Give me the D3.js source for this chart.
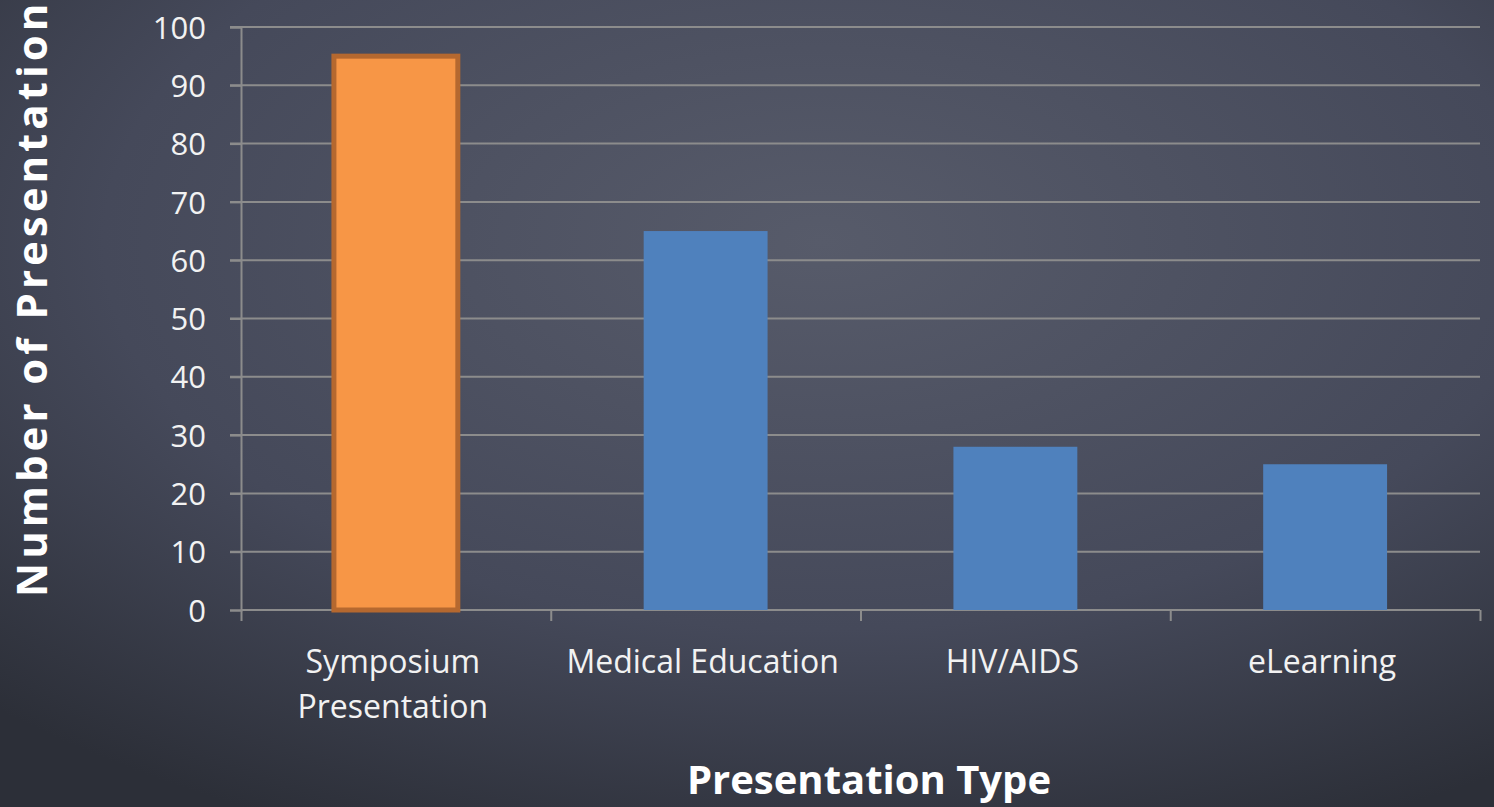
<!DOCTYPE html>
<head>
  <meta charset="utf-8">
</head>
<style>
body { margin: 0; overflow: hidden; }
.grid line { stroke: #8c8c8c; stroke-width: 2; }
.axis text { fill: #f2f2f2; font-family: "Open Sans", sans-serif; }
.axis path, .axis line { stroke: #8c8c8c; stroke-width: 2; }
</style>
<body>
<script src="https://d3js.org/d3.v7.min.js"></script>
<script>
var categories = [["Symposium", "Presentation"], ["Medical Education"], ["HIV/AIDS"], ["eLearning"]];
var values = [95, 65, 28, 25];
var yTicks = [0, 10, 20, 30, 40, 50, 60, 70, 80, 90, 100];

var width = 1494, height = 807;
var margin = {top: 27, right: 14, bottom: 197, left: 241};

var svg = d3.select("body").append("svg")
  .attr("width", width)
  .attr("height", height);

// chalkboard background
var defs = svg.append("defs");
var grad = defs.append("radialGradient")
  .attr("id", "board")
  .attr("cx", "55%").attr("cy", "30%").attr("r", "80%");
grad.append("stop").attr("offset", "0%").attr("stop-color", "#575b6a");
grad.append("stop").attr("offset", "60%").attr("stop-color", "#45495a");
grad.append("stop").attr("offset", "100%").attr("stop-color", "#2c2f38");
svg.append("rect").attr("width", width).attr("height", height).attr("fill", "url(#board)");

var x = d3.scaleBand()
  .domain(d3.range(categories.length))
  .range([margin.left, width - margin.right])
  .paddingInner(0.6)
  .paddingOuter(0.3);

var y = d3.scaleLinear()
  .domain([0, 100])
  .range([height - margin.bottom, margin.top]);

// gridlines
svg.append("g").attr("class", "grid")
  .selectAll("line")
  .data(yTicks.slice(1))
  .enter().append("line")
  .attr("x1", margin.left - 11)
  .attr("x2", width - margin.right)
  .attr("y1", function(d) { return y(d); })
  .attr("y2", function(d) { return y(d); });

// y axis
var yAxis = svg.append("g").attr("class", "axis")
  .attr("transform", "translate(" + margin.left + ",0)")
  .call(d3.axisLeft(y).tickValues(yTicks).tickSize(11).tickPadding(24));
yAxis.selectAll("text").attr("font-size", 31).attr("dy", "0.36em");

// x axis with boundary ticks
var xb = d3.scaleLinear().domain([0, categories.length]).range([margin.left, width - margin.right]);
var xAxis = svg.append("g").attr("class", "axis")
  .attr("transform", "translate(0," + y(0) + ")")
  .call(d3.axisBottom(xb).ticks(categories.length).tickSize(11).tickFormat(""));
xAxis.select(".domain").attr("d", "M" + margin.left + ",0H" + (width - margin.right));

// bars
svg.append("g")
  .selectAll("rect")
  .data(values)
  .enter().append("rect")
  .attr("x", function(d, i) { return x(i); })
  .attr("y", function(d) { return y(d); })
  .attr("width", x.bandwidth())
  .attr("height", function(d) { return y(0) - y(d); })
  .attr("fill", function(d, i) { return i == 0 ? "#f79646" : "#4f81bd"; })
  .attr("stroke", function(d, i) { return i == 0 ? "#b5682f" : "none"; })
  .attr("stroke-width", 5);

// category labels
var catLabel = svg.append("g")
  .selectAll("text")
  .data(categories)
  .enter().append("text")
  .attr("x", function(d, i) { return x(i) + x.bandwidth() / 2 - 3; })
  .attr("y", 673)
  .attr("text-anchor", "middle")
  .attr("font-family", "Open Sans, sans-serif")
  .attr("font-size", 32)
  .attr("fill", "#f2f2f2");
catLabel.selectAll("tspan")
  .data(function(d) { return d; })
  .enter().append("tspan")
  .attr("x", function() { return d3.select(this.parentNode).attr("x"); })
  .attr("dy", function(d, i) { return i == 0 ? 0 : 45; })
  .text(function(d) { return d; });

// axis titles
svg.append("text")
  .attr("x", 869)
  .attr("y", 794)
  .attr("text-anchor", "middle")
  .attr("font-family", "Open Sans, sans-serif")
  .attr("font-weight", "bold")
  .attr("font-size", 40)
  .attr("fill", "#ffffff")
  .text("Presentation Type");

svg.append("text")
  .attr("transform", "translate(47,597) rotate(-90)")
  .attr("text-anchor", "start")
  .attr("font-family", "Open Sans, sans-serif")
  .attr("font-weight", "bold")
  .attr("font-size", 42)
  .attr("letter-spacing", 4)
  .attr("fill", "#ffffff")
  .text("Number of Presentation");
</script>
</body>
